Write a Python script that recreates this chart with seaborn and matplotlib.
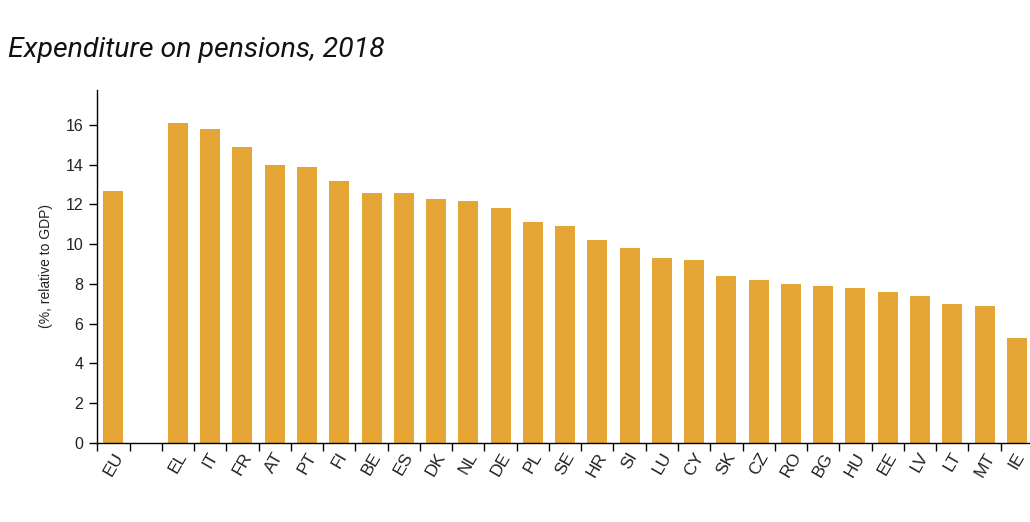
import numpy as np
import pandas as pd
import matplotlib
matplotlib.use("Agg")
import matplotlib.pyplot as plt
import seaborn as sns

# data
countries = ["EU", " ", "EL", "IT", "FR", "AT", "PT", "FI", "BE", "ES", "DK", "NL", "DE", "PL",
             "SE", "HR", "SI", "LU", "CY", "SK", "CZ", "RO", "BG", "HU", "EE", "LV", "LT",
             "MT", "IE"]
values = [12.7, np.nan, 16.1, 15.8, 14.9, 14.0, 13.9, 13.2, 12.6, 12.6, 12.3, 12.2, 11.8, 11.1,
          10.9, 10.2, 9.8, 9.3, 9.2, 8.4, 8.2, 8.0, 7.9, 7.8, 7.6, 7.4, 7.0, 6.9, 5.3]
yticks = [0, 2, 4, 6, 8, 10, 12, 14, 16]

df = pd.DataFrame({"country": countries, "value": values})

sns.set_style("white")
plt.rcParams['font.family'] = ['Liberation Sans', 'DejaVu Sans']

fig = plt.figure(figsize=(10.3, 5.22), dpi=100)
ax = fig.add_axes([97.3 / 1030, 1 - 443 / 522, (1032.9 - 97.3) / 1030, (443 - 90) / 522])

sns.barplot(data=df.dropna(), x="country", y="value", order=countries, color="#E5A535",
            saturation=1, width=0.62, linewidth=0, ax=ax)

ax.set_xlim(-0.5, 28.5)
ax.set_ylim(0, 17.76)
ax.set_yticks(yticks)
ax.set_yticklabels([str(t) for t in yticks], fontsize=11.5, color="#222222")

# labels at the bar centres, ticks on the slot boundaries
ax.set_xticks(range(len(countries)))
ax.set_xticklabels(countries, rotation=60, fontsize=12.5, color="#222222",
                   ha="center", va="top")
ax.set_xticks(np.arange(-0.5, len(countries), 1.0), minor=True)
ax.tick_params(axis="x", which="major", length=0, pad=5, bottom=True)
ax.tick_params(axis="x", which="minor", length=6, width=1, color="black",
               direction="out", bottom=True)
ax.tick_params(axis="y", which="major", length=6, width=1, color="black",
               direction="out", pad=4, left=True)

for s in ["top", "right"]:
    ax.spines[s].set_visible(False)
for s in ["left", "bottom"]:
    ax.spines[s].set_color("black")
    ax.spines[s].set_linewidth(1)

ax.set_xlabel("")
ax.set_ylabel("(%, relative to GDP)", fontsize=10, color="#222222", labelpad=9)

fig.text(8 / 1030, 1 - 50 / 522, "Expenditure on pensions, 2018", fontsize=20.5, style="italic",
         family=["Roboto", "DejaVu Sans"], ha="left", va="center", color="#111111")

fig.savefig("out.png", dpi=100)
